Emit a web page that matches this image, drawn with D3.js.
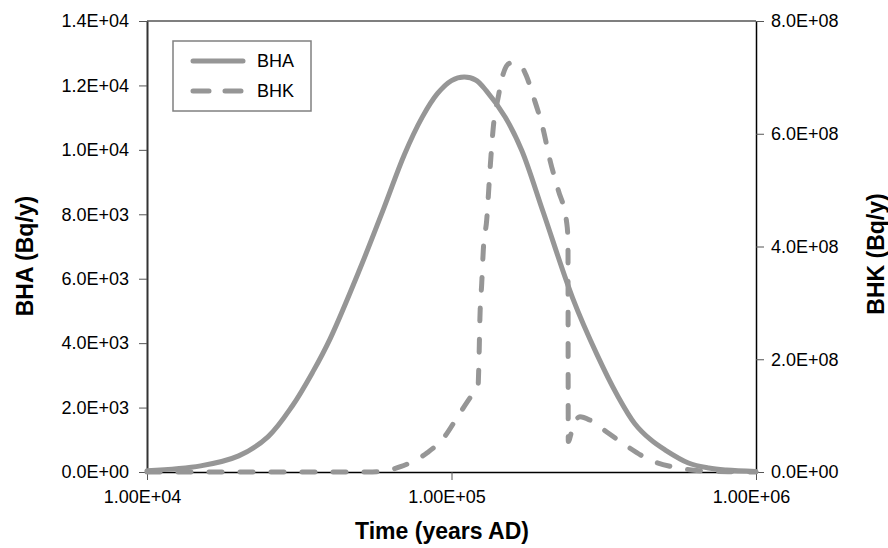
<!DOCTYPE html>
<html>
<head>
<meta charset="utf-8">
<script src="https://cdn.jsdelivr.net/npm/d3@7"></script>
<style>
  html, body { margin: 0; padding: 0; background: #fff; }
  svg { display: block; font-family: "Liberation Sans", Arial, sans-serif; }
</style>
</head>
<body>
<svg id="chart" width="888" height="548"></svg>
<script>
// Time axis (years AD)
const bhaYears = [10000, 15000, 20000, 25000, 30000, 35000, 40000, 50000, 60000, 70000,
  80000, 90000, 100000, 110000, 120000, 130000, 150000, 170000, 200000, 250000,
  300000, 350000, 400000, 450000, 500000, 600000, 700000, 800000, 1000000];
// BHA (Bq/y), left axis
const bhaValues = [40, 190, 500, 1100, 2050, 3100, 4150, 6300, 8200, 9850,
  11000, 11750, 12150, 12260, 12170, 11840, 11020, 9990, 8070, 5400,
  3660, 2390, 1500, 1010, 700, 280, 124, 62, 15];

const bhkYears = [10000, 30000, 55000, 60000, 68000, 83000, 94000, 106600, 118000, 122200,
  123100, 124000, 125700, 127200, 130500, 133800, 137200, 142500, 148000, 155700,
  167900, 176600, 185700, 200200, 210600, 224200, 239000, 241300, 241800, 248000,
  254400, 264200, 285000, 323400, 376200, 448700, 534000, 654600, 840000, 1000000];
// BHK (Bq/y), right axis
const bhkValues = [0, 0, 0, 1.5e6, 9.4e6, 3.37e7, 5.98e7, 1.047e8, 1.40e8, 1.51e8,
  1.99e8, 2.75e8, 3.35e8, 3.94e8, 4.47e8, 5.36e8, 6.12e8, 6.66e8, 7.07e8, 7.25e8,
  7.22e8, 7.01e8, 6.66e8, 6.07e8, 5.53e8, 5.00e8, 4.42e8, 4.12e8, 5.4e7, 7.15e7,
  8.87e7, 9.8e7, 9.2e7, 7.1e7, 4.6e7, 2.13e7, 8.9e6, 2.3e6, 5e5, 0];

const xTicks = [1e4, 1e5, 1e6];
const xTickLabels = ["1.00E+04", "1.00E+05", "1.00E+06"];
const leftTicks = [0, 2000, 4000, 6000, 8000, 10000, 12000, 14000];
const leftTickLabels = ["0.0E+00", "2.0E+03", "4.0E+03", "6.0E+03", "8.0E+03", "1.0E+04", "1.2E+04", "1.4E+04"];
const rightTicks = [0, 2e8, 4e8, 6e8, 8e8];
const rightTickLabels = ["0.0E+00", "2.0E+08", "4.0E+08", "6.0E+08", "8.0E+08"];

const seriesNames = ["BHA", "BHK"];

const svg = d3.select("#chart");
const plotLeft = 147, plotRight = 756, plotTop = 21, plotBottom = 472;
const lineColor = "#969696";
const fontStack = "'Liberation Sans', Arial, sans-serif";

const x = d3.scaleLog().domain([1e4, 1e6]).range([plotLeft, plotRight]);
const yL = d3.scaleLinear().domain([0, 14000]).range([plotBottom, plotTop]);
const yR = d3.scaleLinear().domain([0, 8e8]).range([plotBottom, plotTop]);

function styleAxis(g, size, domainColor, domainWidth) {
  g.attr("font-size", null).attr("font-family", null)
    .style("font-family", fontStack).style("font-size", size + "px");
  g.select(".domain").attr("stroke", domainColor).attr("stroke-width", domainWidth);
  g.selectAll(".tick line").attr("stroke", "#555").attr("stroke-width", 1);
  g.selectAll(".tick text").attr("fill", "#000")
    .style("font-family", fontStack).style("font-size", size + "px");
}

// top border of the plot frame
svg.append("line")
  .attr("x1", plotLeft).attr("x2", plotRight).attr("y1", plotTop).attr("y2", plotTop)
  .attr("stroke", "#000").attr("stroke-width", 1.2);

// left axis
const gL = svg.append("g").attr("transform", `translate(${plotLeft},0)`)
  .call(d3.axisLeft(yL).tickValues(leftTicks)
    .tickFormat((d, i) => leftTickLabels[i]).tickSize(8).tickSizeOuter(0).tickPadding(10));
styleAxis(gL, 18, "#333", 2);

// right axis
const gR = svg.append("g").attr("transform", `translate(${plotRight},0)`)
  .call(d3.axisRight(yR).tickValues(rightTicks)
    .tickFormat((d, i) => rightTickLabels[i]).tickSize(8).tickSizeOuter(0).tickPadding(7));
styleAxis(gR, 18, "#000", 1.5);

// bottom (time) axis
const gX = svg.append("g").attr("transform", `translate(0,${plotBottom})`)
  .call(d3.axisBottom(x).tickValues(xTicks)
    .tickFormat((d, i) => xTickLabels[i]).tickSize(8).tickSizeOuter(0).tickPadding(10));
styleAxis(gX, 18, "#000", 1.5);
gX.selectAll(".tick text").attr("dx", -5);

// series
const bhaLine = d3.line().x(d => x(d[0])).y(d => yL(d[1])).curve(d3.curveCatmullRom.alpha(0.5));
const bhkLine = d3.line().x(d => x(d[0])).y(d => yR(d[1])).curve(d3.curveMonotoneX);

svg.append("path")
  .datum(bhaYears.map((t, i) => [t, bhaValues[i]]))
  .attr("d", bhaLine)
  .attr("fill", "none").attr("stroke", lineColor).attr("stroke-width", 5)
  .attr("stroke-linejoin", "round").attr("stroke-linecap", "round");

svg.append("path")
  .datum(bhkYears.map((t, i) => [t, bhkValues[i]]))
  .attr("d", bhkLine)
  .attr("fill", "none").attr("stroke", lineColor).attr("stroke-width", 5)
  .attr("stroke-dasharray", "13,18")
  .attr("stroke-linejoin", "round").attr("stroke-linecap", "round");

// axis titles
const titleStyle = sel => sel.style("font-family", fontStack)
  .style("font-size", "23px").style("font-weight", "bold").attr("fill", "#000");

svg.append("text")
  .attr("x", 442).attr("y", 539)
  .attr("text-anchor", "middle")
  .call(titleStyle)
  .text("Time (years AD)");

svg.append("text")
  .attr("transform", "translate(25,256) rotate(-90)")
  .attr("text-anchor", "middle").attr("dominant-baseline", "central")
  .call(titleStyle)
  .text("BHA (Bq/y)");

svg.append("text")
  .attr("transform", "translate(876,254) rotate(-90)")
  .attr("text-anchor", "middle").attr("dominant-baseline", "central")
  .call(titleStyle)
  .text("BHK (Bq/y)");

// legend
const lg = svg.append("g");
lg.append("rect")
  .attr("x", 173).attr("y", 41).attr("width", 138).attr("height", 70)
  .attr("fill", "#fff").attr("stroke", "#808080").attr("stroke-width", 1.5);
seriesNames.forEach((name, i) => {
  const ly = 61 + i * 30;
  lg.append("line")
    .attr("x1", 193).attr("x2", 243).attr("y1", ly).attr("y2", ly)
    .attr("stroke", lineColor).attr("stroke-width", 5).attr("stroke-linecap", "round")
    .attr("stroke-dasharray", i === 1 ? "16,16" : null);
  lg.append("text")
    .attr("x", 257).attr("y", ly + 6)
    .style("font-family", fontStack).style("font-size", "18px").attr("fill", "#000")
    .text(name);
});
</script>
</body>
</html>
